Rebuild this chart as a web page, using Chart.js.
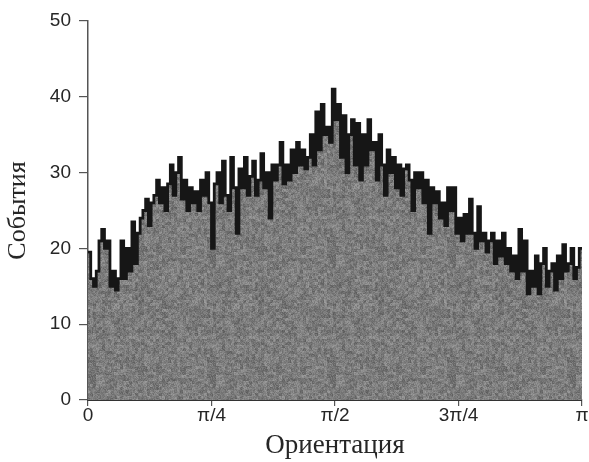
<!DOCTYPE html>
<html>
<head>
<meta charset="utf-8">
<script src="https://cdn.jsdelivr.net/npm/chart.js@4.4.1/dist/chart.umd.min.js"></script>
<style>
  html, body { margin: 0; padding: 0; background: #ffffff; }
  #c { display: block; }
</style>
</head>
<body>
<canvas id="c" width="589" height="462"></canvas>
<script>
// Orientation histogram: 180 bins spanning 0..π (one degree per bin)
const binCount = 180;
const events = [
  19.5, 16, 15, 17,      21, 22.5, 20, 21,      15, 17, 14.5, 16,      21, 16, 20, 17,
  23.5, 18, 22, 24,      25, 26.5, 23, 26,      27, 29, 26, 28,        25, 28.5, 31, 27,
  30, 32, 26.5, 29,      25, 28, 26, 27.5,      25, 29, 27, 30,        26, 20, 28.5, 30,
  26, 31.5, 27, 25,      32, 28, 22, 30.5,      28, 32, 27, 29.5,      31.5, 27, 29, 32.5,
  28, 30, 24, 31,        29, 31, 34, 28.5,      31, 29, 33, 30,        34, 31, 33, 30.5,
  32, 35, 31, 38,        33, 39, 35, 36,        34, 41, 37, 39,        32, 37.5, 30, 35,
  37, 31, 36.5, 29,      35, 31, 37, 33,        34, 29, 35, 31,        27, 33, 30, 32,
  28, 31, 27, 30.5,      31, 29, 25, 30,        28, 30, 26, 29,        22, 28, 26, 27.5,
  24, 26, 23, 28,        25, 28, 22, 24,        21, 24.5, 22, 26.5,    22, 20, 25.5, 21,
  22, 19.5, 21, 22,      18, 21, 19, 22,        18, 20, 17, 19,        16, 22.5, 17, 21,
  14, 17, 15, 19,        14, 18, 20, 15,        17, 18, 14.5, 19,      16, 20.5, 17, 18,
  20, 16, 17.5, 20
];
// Tick positions (in bins) and their labels along the orientation axis
const xTickBins = [0, 45, 90, 135, 180];
const xTickLabels = ['0', 'π/4', 'π/2', '3π/4', 'π'];
const yTicks = [0, 10, 20, 30, 40, 50];

// Step outline: each bin starts at its left edge; a closing point ends the last bin
const points = events.map((v, i) => ({ x: i, y: v }));
points.push({ x: binCount, y: events[events.length - 1] });

// Mottled gray fill texture (deterministic hash noise at two scales)
function hash(x, y) {
  let h = (x * 374761393 + y * 668265263) >>> 0;
  h = ((h ^ (h >>> 13)) * 1274126177) >>> 0;
  return ((h ^ (h >>> 16)) & 1023) / 1023;
}
function grainPattern(ctx) {
  const size = 120;
  const off = document.createElement('canvas');
  off.width = size; off.height = size;
  const octx = off.getContext('2d');
  const img = octx.createImageData(size, size);
  for (let y = 0; y < size; y++) {
    for (let x = 0; x < size; x++) {
      const coarse = hash(Math.floor(x / 3) + 500, Math.floor(y / 3) + 900) - 0.5;
      const fine = hash(x, y) - 0.5;
      const g = Math.round(124 + coarse * 34 + fine * 34);
      const k = (y * size + x) * 4;
      img.data[k] = g; img.data[k + 1] = g; img.data[k + 2] = g; img.data[k + 3] = 255;
    }
  }
  octx.putImageData(img, 0, 0);
  return ctx.createPattern(off, 'repeat');
}

const canvas = document.getElementById('c');
const ctx = canvas.getContext('2d');
const axisColor = '#555555';
const textColor = '#262626';

new Chart(ctx, {
  type: 'line',
  data: {
    datasets: [{
      data: points,
      stepped: 'before',
      fill: 'origin',
      backgroundColor: grainPattern(ctx),
      borderColor: '#161616',
      borderWidth: 2.8,
      borderJoinStyle: 'miter',
      pointRadius: 0,
      tension: 0
    }]
  },
  options: {
    responsive: false,
    devicePixelRatio: 1,
    animation: false,
    events: [],
    layout: { padding: { top: 21, right: 7, left: 0, bottom: 0 } },
    plugins: { legend: { display: false }, tooltip: { enabled: false } },
    scales: {
      x: {
        type: 'linear',
        min: 0,
        max: binCount,
        afterBuildTicks: s => { s.ticks = xTickBins.map(v => ({ value: v })); },
        afterFit: s => { s.height = 62; },
        grid: { drawOnChartArea: false, drawTicks: true, tickLength: 6, color: axisColor, lineWidth: 1.2 },
        border: { display: true, color: '#333333', width: 2 },
        ticks: {
          color: textColor,
          padding: -2,
          maxRotation: 0,
          autoSkip: false,
          font: { family: 'Liberation Sans', size: 19 },
          callback: v => xTickLabels[xTickBins.indexOf(v)]
        },
        title: {
          display: true,
          text: 'Ориентация',
          color: textColor,
          font: { family: 'Liberation Serif', size: 27 },
          padding: { top: 0, bottom: 0 }
        }
      },
      y: {
        min: 0,
        max: 50,
        afterBuildTicks: s => { s.ticks = yTicks.map(v => ({ value: v })); },
        afterFit: s => { s.width = 88; },
        grid: { drawOnChartArea: false, drawTicks: true, tickLength: 9, color: axisColor, lineWidth: 1.2 },
        border: { display: true, color: axisColor, width: 1.5 },
        ticks: {
          color: textColor,
          padding: 8,
          font: { family: 'Liberation Sans', size: 19 }
        },
        title: {
          display: true,
          text: 'События',
          color: textColor,
          font: { family: 'Liberation Serif', size: 26 },
          padding: { top: 3, bottom: 0 }
        }
      }
    }
  }
});
</script>
</body>
</html>
